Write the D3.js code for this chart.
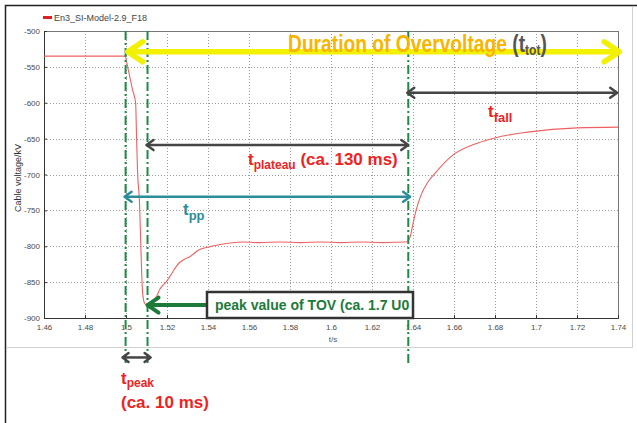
<!DOCTYPE html>
<html>
<head>
<meta charset="utf-8">
<script src="https://cdn.jsdelivr.net/npm/d3@7"></script>
<style>
body { margin: 0; background: #fff; }
svg { display: block; }
text { font-family: "Liberation Sans", Arial, sans-serif; }
</style>
</head>
<body>
<div id="graphic"></div>
<script>
//series
var seriesName = "En3_SI-Model-2.9_F18";
var times = [1.46, 1.49, 1.4995, 1.5008, 1.502, 1.5032, 1.5047, 1.5051, 1.5056, 1.5066,
    1.5076, 1.5081, 1.509, 1.5105, 1.5124, 1.5149, 1.5165, 1.5178, 1.5195, 1.5212,
    1.5236, 1.526, 1.5285, 1.5309, 1.5357, 1.5405, 1.5454, 1.5566, 1.565, 1.575,
    1.585, 1.595, 1.605, 1.615, 1.625, 1.6355, 1.6367, 1.6386, 1.6401, 1.6416,
    1.644, 1.6474, 1.6508, 1.6585, 1.6717, 1.6799, 1.6959, 1.7202, 1.74];
var volts = [-535, -535, -535, -550, -566, -582, -600, -642, -693, -740,
    -833, -865, -879, -883, -878, -870, -860, -855, -850, -843,
    -832, -823, -818, -815, -805, -801, -798, -794, -795, -794,
    -795, -794, -795, -794, -795, -794, -794, -787, -767, -749,
    -728, -710, -698, -675, -656, -649, -641, -635, -634];

//axes
var xTicks = [1.46, 1.48, 1.5, 1.52, 1.54, 1.56, 1.58, 1.6, 1.62, 1.64, 1.66, 1.68, 1.7, 1.72, 1.74];
var xTickLabels = ["1.46", "1.48", "1.5", "1.52", "1.54", "1.56", "1.58", "1.6", "1.62", "1.64", "1.66", "1.68", "1.7", "1.72", "1.74"];
var yTicks = [-500, -550, -600, -650, -700, -750, -800, -850, -900];
var yTickLabels = ["-500", "-550", "-600", "-650", "-700", "-750", "-800", "-850", "-900"];

//annotation times (s) and levels (kV)
var markerTimes = [1.4998, 1.5105, 1.6377];
var spans = [
    {name: "tot",     t0: 1.5008, t1: 1.7406, v: -529},
    {name: "fall",    t0: 1.6372, t1: 1.7396, v: -586},
    {name: "plateau", t0: 1.5100, t1: 1.6377, v: -659},
    {name: "pp",      t0: 1.4993, t1: 1.6386, v: -731},
    {name: "peak",    t0: 1.4983, t1: 1.5120, v: -955}
];
var peakTime = 1.5105, peakVolt = -882;

var colors = {
    curve: "#f06060", legend: "#e02020", green: "#1f8a45", yellow: "#f2f200",
    orange: "#f7b500", grey: "#454545", teal: "#2c8c99", red: "#ee2222", peakGreen: "#1d7a3a"
};

var width = 637, height = 423;
var svg = d3.select("#graphic").append("svg").attr("width", width).attr("height", height);

var x = d3.scaleLinear().domain([1.46, 1.74]).range([44, 618]);
var y = d3.scaleLinear().domain([-900, -500]).range([318, 31]);

//frames
svg.append("rect").attr("x", 0).attr("y", 0).attr("width", width).attr("height", height).attr("fill", "#fff");
svg.append("path").attr("d", "M5.5,423V5.5H637").attr("fill", "none").attr("stroke", "#222").attr("stroke-width", 1.5);
svg.append("path").attr("d", "M6,347.5H632.5V7").attr("fill", "none").attr("stroke", "#d0d0d0").attr("stroke-width", 1);

//grid
var grid = svg.append("g").attr("stroke", "#9a9a9a").attr("stroke-width", 1).attr("stroke-dasharray", "1,2");
grid.selectAll(".vx").data(xTicks.slice(1, -1)).enter().append("line")
    .attr("x1", function(d) { return Math.round(x(d)) + 0.5; })
    .attr("x2", function(d) { return Math.round(x(d)) + 0.5; })
    .attr("y1", y(-500)).attr("y2", y(-900));
grid.selectAll(".hy").data(yTicks.slice(1, -1)).enter().append("line")
    .attr("y1", function(d) { return Math.round(y(d)) + 0.5; })
    .attr("y2", function(d) { return Math.round(y(d)) + 0.5; })
    .attr("x1", x(1.46)).attr("x2", x(1.74));

svg.append("rect").attr("x", x(1.46) + 0.5).attr("y", y(-500) + 0.5)
    .attr("width", x(1.74) - x(1.46)).attr("height", y(-900) - y(-500))
    .attr("fill", "none").attr("stroke", "#777");

//axes
var xAxis = d3.axisBottom(x).tickValues(xTicks)
    .tickFormat(function(d, i) { return xTickLabels[i]; })
    .tickSizeInner(-3).tickSizeOuter(0).tickPadding(6);
var yAxis = d3.axisLeft(y).tickValues(yTicks)
    .tickFormat(function(d, i) { return yTickLabels[i]; })
    .tickSizeInner(-3).tickSizeOuter(0).tickPadding(4);

var gx = svg.append("g").attr("transform", "translate(0," + y(-900) + ")").call(xAxis);
var gy = svg.append("g").attr("transform", "translate(" + x(1.46) + ",0)").call(yAxis);
[gx, gy].forEach(function(g) {
    g.select(".domain").attr("stroke", "#333");
    g.selectAll(".tick line").attr("stroke", "#333");
    g.selectAll("text").attr("fill", "#4a4a4a").attr("font-size", 8).attr("font-family", "Liberation Sans, Arial, sans-serif");
});

svg.append("text").attr("x", 333).attr("y", 342).attr("text-anchor", "middle")
    .attr("font-size", 8).attr("fill", "#555").text("t/s");
svg.append("text").attr("transform", "translate(21,178) rotate(-90)").attr("text-anchor", "middle")
    .attr("font-size", 9).attr("fill", "#333").text("Cable voltage/kV");

//legend
svg.append("line").attr("x1", 43).attr("x2", 52).attr("y1", 17.5).attr("y2", 17.5)
    .attr("stroke", colors.legend).attr("stroke-width", 3);
svg.append("text").attr("x", 54).attr("y", 21).attr("font-size", 9).attr("fill", "#444").text(seriesName);

//curve
var line = d3.line().x(function(d, i) { return x(times[i]); }).y(function(d) { return y(d); }).curve(d3.curveMonotoneX);
svg.append("path").datum(volts).attr("d", line).attr("fill", "none")
    .attr("stroke", colors.curve).attr("stroke-width", 1.1);

//green dash-dot markers
svg.selectAll(".marker").data(markerTimes).enter().append("line")
    .attr("x1", function(d) { return x(d); }).attr("x2", function(d) { return x(d); })
    .attr("y1", y(-500)).attr("y2", function(d, i) { return i < 2 ? 366 : 363; })
    .attr("stroke", colors.green).attr("stroke-width", 2).attr("stroke-dasharray", "9,3,2,3");

//arrows
function chevron(g, xt, yt, dir, len, half, color, sw) {
    g.append("path")
        .attr("d", "M" + (xt + dir * len) + "," + (yt - half) + "L" + xt + "," + yt + "L" + (xt + dir * len) + "," + (yt + half))
        .attr("fill", "none").attr("stroke", color).attr("stroke-width", sw)
        .attr("stroke-linecap", "round").attr("stroke-linejoin", "round");
}
function dblArrow(s, color, sw, len, half) {
    var g = svg.append("g");
    var x0 = x(s.t0), x1 = x(s.t1), yy = y(s.v);
    g.append("line").attr("x1", x0 + 2).attr("x2", x1 - 2).attr("y1", yy).attr("y2", yy)
        .attr("stroke", color).attr("stroke-width", sw);
    chevron(g, x0, yy, 1, len, half, color, sw);
    chevron(g, x1, yy, -1, len, half, color, sw);
}
var spanStyle = {
    tot: [colors.yellow, 5.5, 15, 10],
    fall: [colors.grey, 2.5, 7, 5],
    plateau: [colors.grey, 2.5, 7, 5],
    pp: [colors.teal, 2.5, 7, 5],
    peak: [colors.grey, 2.5, 6, 4.5]
};
spans.forEach(function(s) {
    var st = spanStyle[s.name];
    dblArrow(s, st[0], st[1], st[2], st[3]);
});

//peak value box + arrow
var boxX0 = 207, boxX1 = 413, boxY0 = 292;
var pg = svg.append("g");
pg.append("line").attr("x1", x(peakTime) + 2).attr("x2", boxX0).attr("y1", y(peakVolt)).attr("y2", y(peakVolt))
    .attr("stroke", colors.peakGreen).attr("stroke-width", 4);
chevron(pg, x(peakTime), y(peakVolt), 1, 11, 7.5, colors.peakGreen, 4);
pg.append("rect").attr("x", boxX0).attr("y", boxY0).attr("width", boxX1 - boxX0).attr("height", y(-900) - boxY0)
    .attr("fill", "#fff").attr("stroke", "#333").attr("stroke-width", 2.5);
pg.append("text").attr("x", 215).attr("y", 310).attr("font-size", 14).attr("font-weight", "bold")
    .attr("fill", colors.peakGreen).text("peak value of TOV (ca. 1.7 U0");

//rich labels: [text, size, baseline offset, color]
function label(x0, y0, parts, fitWidth) {
    var t = svg.append("text").attr("font-weight", "bold").attr("x", 0).attr("y", 0);
    var off = 0;
    parts.forEach(function(p) {
        t.append("tspan").attr("font-size", p[1]).attr("dy", p[2] - off).attr("fill", p[3]).text(p[0]);
        off = p[2];
    });
    var sx = 1;
    if (fitWidth) sx = fitWidth / t.node().getBBox().width;
    t.attr("transform", "translate(" + x0 + "," + y0 + ") scale(" + sx + ",1)");
}
label(288, 52, [["Duration of Overvoltage ", 24, 0, colors.orange], ["(t", 24, 0, "#555"],
    ["tot", 15, 3, "#555"], [")", 24, 0, "#555"]], 259);
label(488, 117, [["t", 17, 0, colors.red], ["fall", 13, 5, colors.red]]);
label(248, 165, [["t", 17, 0, colors.red], ["plateau", 12, 4, colors.red], [" (ca. 130 ms)", 17, 0, colors.red]]);
label(183, 215, [["t", 17, 0, colors.teal], ["pp", 13, 5, colors.teal]]);
label(121, 384, [["t", 17, 0, colors.red], ["peak", 12, 3, colors.red]]);
label(121, 408, [["(ca. 10 ms)", 17, 0, colors.red]]);
</script>
</body>
</html>
